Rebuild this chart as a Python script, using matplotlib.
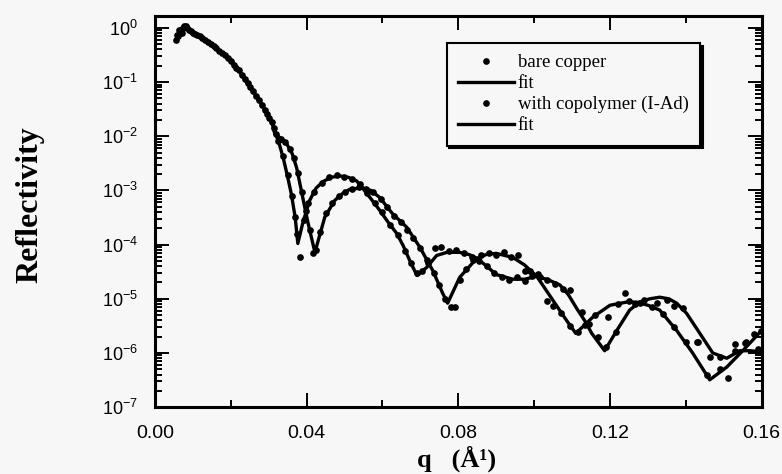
import matplotlib
matplotlib.use('Agg')
import math
import matplotlib.pyplot as plt
from matplotlib.ticker import FixedLocator, LogLocator, FuncFormatter, NullFormatter

plt.rcParams['font.family'] = ['Liberation Sans', 'DejaVu Sans']

# fit curves (q in 1/A, reflectivity)
fit1_q = [0.0072, 0.0080, 0.0090, 0.0100, 0.0120, 0.0140, 0.0160, 0.0180, 0.0200, 0.0220,
          0.0240, 0.0260, 0.0280, 0.0300, 0.0310, 0.0320, 0.0330, 0.0340, 0.0350, 0.0360,
          0.0370, 0.0377, 0.0390, 0.0408, 0.0425, 0.0443, 0.0465, 0.0488, 0.0510, 0.0532,
          0.0548, 0.0570, 0.0593, 0.0615, 0.0638, 0.0655, 0.0672, 0.0691, 0.0717, 0.0743,
          0.0770, 0.0804, 0.0830, 0.0849, 0.0875, 0.0900, 0.0944, 0.0975, 0.1007, 0.1040,
          0.1068, 0.1090, 0.1115, 0.1135, 0.1152, 0.1186, 0.1218, 0.1252, 0.1278, 0.1305,
          0.1331, 0.1355, 0.1376, 0.1402, 0.1437, 0.1471, 0.1508, 0.1542, 0.1570, 0.1600]
fit1_r = [1.0, 1.1, 0.95, 0.85, 0.68, 0.55, 0.44, 0.33, 0.24, 0.17,
          0.105, 0.066, 0.040, 0.023, 0.017, 0.0105, 0.0065, 0.0036, 0.0018, 8.5e-4,
          3.2e-4, 1.05e-4, 2.5e-4, 6.5e-4, 1.1e-3, 1.45e-3, 1.75e-3, 1.85e-3, 1.75e-3, 1.5e-3,
          1.1e-3, 7.0e-4, 4.3e-4, 2.6e-4, 1.6e-4, 9.5e-5, 5.1e-5, 2.7e-5, 3.8e-5, 6.3e-5,
          7.2e-5, 7.2e-5, 6.5e-5, 5.6e-5, 4.0e-5, 2.8e-5, 2.3e-5, 2.3e-5, 2.6e-5, 2.2e-5,
          1.8e-5, 1.2e-5, 6.2e-6, 3.8e-6, 2.3e-6, 1.1e-6, 2.6e-6, 6.2e-6, 8.7e-6, 1.0e-5,
          1.07e-5, 1.0e-5, 8.3e-6, 5.4e-6, 2.3e-6, 1.0e-6, 8.0e-7, 1.1e-6, 1.1e-6, 1.05e-6]

fit2_q = [0.0072, 0.0080, 0.0090, 0.0100, 0.0120, 0.0140, 0.0160, 0.0180, 0.0200, 0.0220,
          0.0240, 0.0260, 0.0280, 0.0300, 0.0310, 0.0316, 0.0332, 0.0348, 0.0362, 0.0374,
          0.0390, 0.0404, 0.0422, 0.0448, 0.0474, 0.0495, 0.0514, 0.0548, 0.0570, 0.0593,
          0.0627, 0.0664, 0.0699, 0.0733, 0.0759, 0.0772, 0.0804, 0.0849, 0.0875, 0.0900,
          0.0944, 0.0975, 0.1007, 0.1030, 0.1067, 0.1090, 0.1110, 0.1155, 0.1200, 0.1244,
          0.1270, 0.1300, 0.1331, 0.1376, 0.1418, 0.1463, 0.1508, 0.1550, 0.1600]
fit2_r = [1.0, 1.1, 0.95, 0.85, 0.68, 0.55, 0.44, 0.33, 0.24, 0.17,
          0.105, 0.066, 0.040, 0.023, 0.017, 0.0112, 0.0092, 0.0072, 0.0048, 0.0026,
          7.4e-4, 2.5e-4, 7.2e-5, 3.2e-4, 6.5e-4, 8.8e-4, 1.05e-3, 1.12e-3, 1.0e-3, 7.4e-4,
          3.7e-4, 2.1e-4, 8.9e-5, 3.3e-5, 1.26e-5, 8.3e-6, 2.5e-5, 5.6e-5, 6.6e-5, 6.9e-5,
          5.8e-5, 4.2e-5, 2.6e-5, 1.5e-5, 6.2e-6, 3.6e-6, 2.3e-6, 4.6e-6, 7.6e-6, 8.7e-6,
          8.7e-6, 7.6e-6, 6.2e-6, 2.6e-6, 1.0e-6, 3.2e-7, 5.5e-7, 1.1e-6, 2.6e-6]

# measured points
bare_q = [0.0055, 0.0062, 0.0068, 0.0075, 0.0082, 0.0090, 0.0100, 0.0112, 0.0125, 0.0140,
          0.0155, 0.0170, 0.0185, 0.0200, 0.0215, 0.0230, 0.0245, 0.0260, 0.0275, 0.0290,
          0.0302, 0.0314, 0.0326, 0.0338, 0.0350, 0.0361, 0.0370, 0.0375, 0.0382, 0.0392,
          0.0405, 0.0420, 0.0440, 0.0460, 0.0480, 0.0500, 0.0520, 0.0540, 0.0560, 0.0580,
          0.0600, 0.0620, 0.0640, 0.0660, 0.0675, 0.0690, 0.0705, 0.0720, 0.0740, 0.0755,
          0.0775, 0.0795, 0.0815, 0.0835, 0.0855, 0.0875, 0.0895, 0.0915, 0.0935, 0.0955,
          0.0975, 0.0995, 0.1015, 0.1035, 0.1055, 0.1075, 0.1094, 0.1125, 0.1145, 0.1168,
          0.1190, 0.1215, 0.1239, 0.1265, 0.1290, 0.1323, 0.1350, 0.1370, 0.1392, 0.1429,
          0.1463, 0.1490, 0.1529, 0.1560, 0.1590]
bare_r = [0.6, 0.7, 0.85, 1.0, 1.1, 0.9, 0.82, 0.74, 0.64, 0.54,
          0.47, 0.38, 0.31, 0.24, 0.185, 0.135, 0.095, 0.068, 0.046, 0.031,
          0.022, 0.014, 0.0082, 0.0043, 0.0019, 8.0e-4, 3.3e-4, 1.6e-4, 6.0e-5, 2.8e-4,
          5.8e-4, 9.5e-4, 1.4e-3, 1.75e-3, 1.9e-3, 1.8e-3, 1.6e-3, 1.3e-3, 9.0e-4, 5.8e-4,
          4.0e-4, 2.3e-4, 1.5e-4, 7.5e-5, 4.5e-5, 3.0e-5, 3.3e-5, 4.5e-5, 8.5e-5, 9.0e-5,
          7.5e-5, 7.8e-5, 7.0e-5, 6.0e-5, 5.0e-5, 4.0e-5, 3.0e-5, 2.5e-5, 2.2e-5, 2.5e-5,
          2.1e-5, 2.6e-5, 2.5e-5, 2.2e-5, 1.9e-5, 1.5e-5, 1.45e-5, 5.6e-6, 3.5e-6, 1.95e-6,
          1.3e-6, 2.4e-6, 1.26e-5, 8.0e-6, 9.5e-6, 8.3e-6, 9.5e-6, 7.5e-6, 6.8e-6, 1.6e-6,
          8.3e-7, 8.5e-7, 1.45e-6, 1.6e-6, 1.2e-6]

copo_q = [0.0058, 0.0065, 0.0072, 0.0078, 0.0086, 0.0095, 0.0106, 0.0118, 0.0132, 0.0148,
          0.0162, 0.0178, 0.0192, 0.0208, 0.0222, 0.0238, 0.0252, 0.0268, 0.0282, 0.0296,
          0.0308, 0.0320, 0.0332, 0.0344, 0.0356, 0.0366, 0.0378, 0.0388, 0.0398, 0.0408,
          0.0417, 0.0426, 0.0436, 0.0452, 0.0468, 0.0485, 0.0502, 0.0520, 0.0538, 0.0556,
          0.0575, 0.0595, 0.0612, 0.0630, 0.0648, 0.0665, 0.0682, 0.0700, 0.0718, 0.0735,
          0.0750, 0.0765, 0.0780, 0.0792, 0.0805, 0.0820, 0.0840, 0.0860, 0.0880, 0.0900,
          0.0920, 0.0940, 0.0957, 0.0975, 0.0990, 0.1010, 0.1033, 0.1050, 0.1070, 0.1095,
          0.1115, 0.1135, 0.1160, 0.1194, 0.1220, 0.1250, 0.1280, 0.1310, 0.1340, 0.1370,
          0.1400, 0.1431, 0.1455, 0.1490, 0.1511, 0.1530, 0.1556, 0.1580, 0.1598]
copo_r = [0.75, 0.9, 0.8, 1.1, 1.0, 0.88, 0.78, 0.7, 0.6, 0.5,
          0.43, 0.34, 0.28, 0.21, 0.165, 0.115, 0.082, 0.056, 0.038, 0.026,
          0.018, 0.011, 0.0088, 0.0078, 0.0058, 0.0040, 0.0021, 9.5e-4, 4.2e-4, 1.9e-4,
          7.0e-5, 8.0e-5, 1.7e-4, 3.8e-4, 5.8e-4, 7.8e-4, 9.5e-4, 1.05e-3, 1.15e-3, 1.05e-3,
          9.5e-4, 7.0e-4, 5.0e-4, 3.4e-4, 2.6e-4, 1.9e-4, 1.3e-4, 8.5e-5, 5.2e-5, 3.0e-5,
          1.8e-5, 1.0e-5, 7.0e-6, 7.0e-6, 2.2e-5, 3.5e-5, 5.2e-5, 6.5e-5, 7.0e-5, 6.5e-5,
          7.2e-5, 6.0e-5, 6.3e-5, 3.2e-5, 3.3e-5, 2.9e-5, 9.3e-6, 7.5e-6, 5.5e-6, 3.2e-6,
          2.4e-6, 3.3e-6, 5.0e-6, 4.6e-6, 8.0e-6, 9.0e-6, 8.2e-6, 7.0e-6, 5.2e-6, 3.0e-6,
          1.6e-6, 1.6e-6, 4.0e-7, 5.0e-7, 3.5e-7, 1.1e-6, 1.5e-6, 2.2e-6, 2.6e-6]

bg = '#f7f7f7'
fig = plt.figure(figsize=(7.82, 4.74), dpi=100, facecolor=bg)
ax = fig.add_axes([0.198, 0.141, 0.776, 0.825], facecolor=bg)

ax.plot(bare_q, bare_r, 'o', color='black', markersize=3.8, linestyle='none', label='bare copper')
ax.plot(fit1_q, fit1_r, '-', color='black', linewidth=2.4, label='fit')
ax.plot(copo_q, copo_r, 'o', color='black', markersize=3.8, linestyle='none', label='with copolymer (I-Ad)')
ax.plot(fit2_q, fit2_r, '-', color='black', linewidth=2.4, label='fit')

ax.set_yscale('log')
ax.set_xlim(0, 0.16)
ax.set_ylim(1e-7, 1.65)

ax.xaxis.set_major_locator(FixedLocator([0.0, 0.04, 0.08, 0.12, 0.16]))
ax.xaxis.set_minor_locator(FixedLocator([0.02, 0.06, 0.10, 0.14]))
ax.xaxis.set_major_formatter(FuncFormatter(lambda v, p: '%.2f' % v))
ax.yaxis.set_major_locator(LogLocator(base=10, numticks=20))
ax.yaxis.set_minor_locator(LogLocator(base=10, subs=range(2, 10), numticks=20))
ax.yaxis.set_major_formatter(FuncFormatter(lambda v, p: r'$\mathregular{10^{%d}}$' % round(math.log10(v))))
ax.yaxis.set_minor_formatter(NullFormatter())

ax.tick_params(which='both', direction='in', top=True, right=True, width=1.4, colors='black')
ax.tick_params(which='major', length=10)
ax.tick_params(which='minor', length=5)
ax.tick_params(axis='x', which='major', pad=13, labelsize=14)
ax.tick_params(axis='y', which='major', pad=12, labelsize=13)
for s in ax.spines.values():
    s.set_linewidth(2.2)

leg = ax.legend(loc='upper left', bbox_to_anchor=(0.481, 0.931), borderaxespad=0,
                prop={'family': 'Liberation Serif', 'size': 13.5}, handlelength=3.0,
                handletextpad=0.2, labelspacing=0.2, numpoints=1, fancybox=False,
                frameon=True, borderpad=0.6, shadow={'color': 'black', 'alpha': 1.0})
leg.get_frame().set_edgecolor('black')
leg.get_frame().set_linewidth(1.5)
leg.get_frame().set_facecolor(bg)
leg.get_frame().set_alpha(1.0)

fig.text(30 / 782, 1 - 205 / 474, 'Reflectivity', rotation=90, ha='center', va='center',
         family='Liberation Serif', fontweight='bold', fontsize=23)
fig.text(457 / 782, 1 - 459 / 474, 'q   (Å¹)', ha='center', va='center',
         family='Liberation Serif', fontweight='bold', fontsize=19)

fig.savefig('out.png', dpi=100, facecolor=bg)
